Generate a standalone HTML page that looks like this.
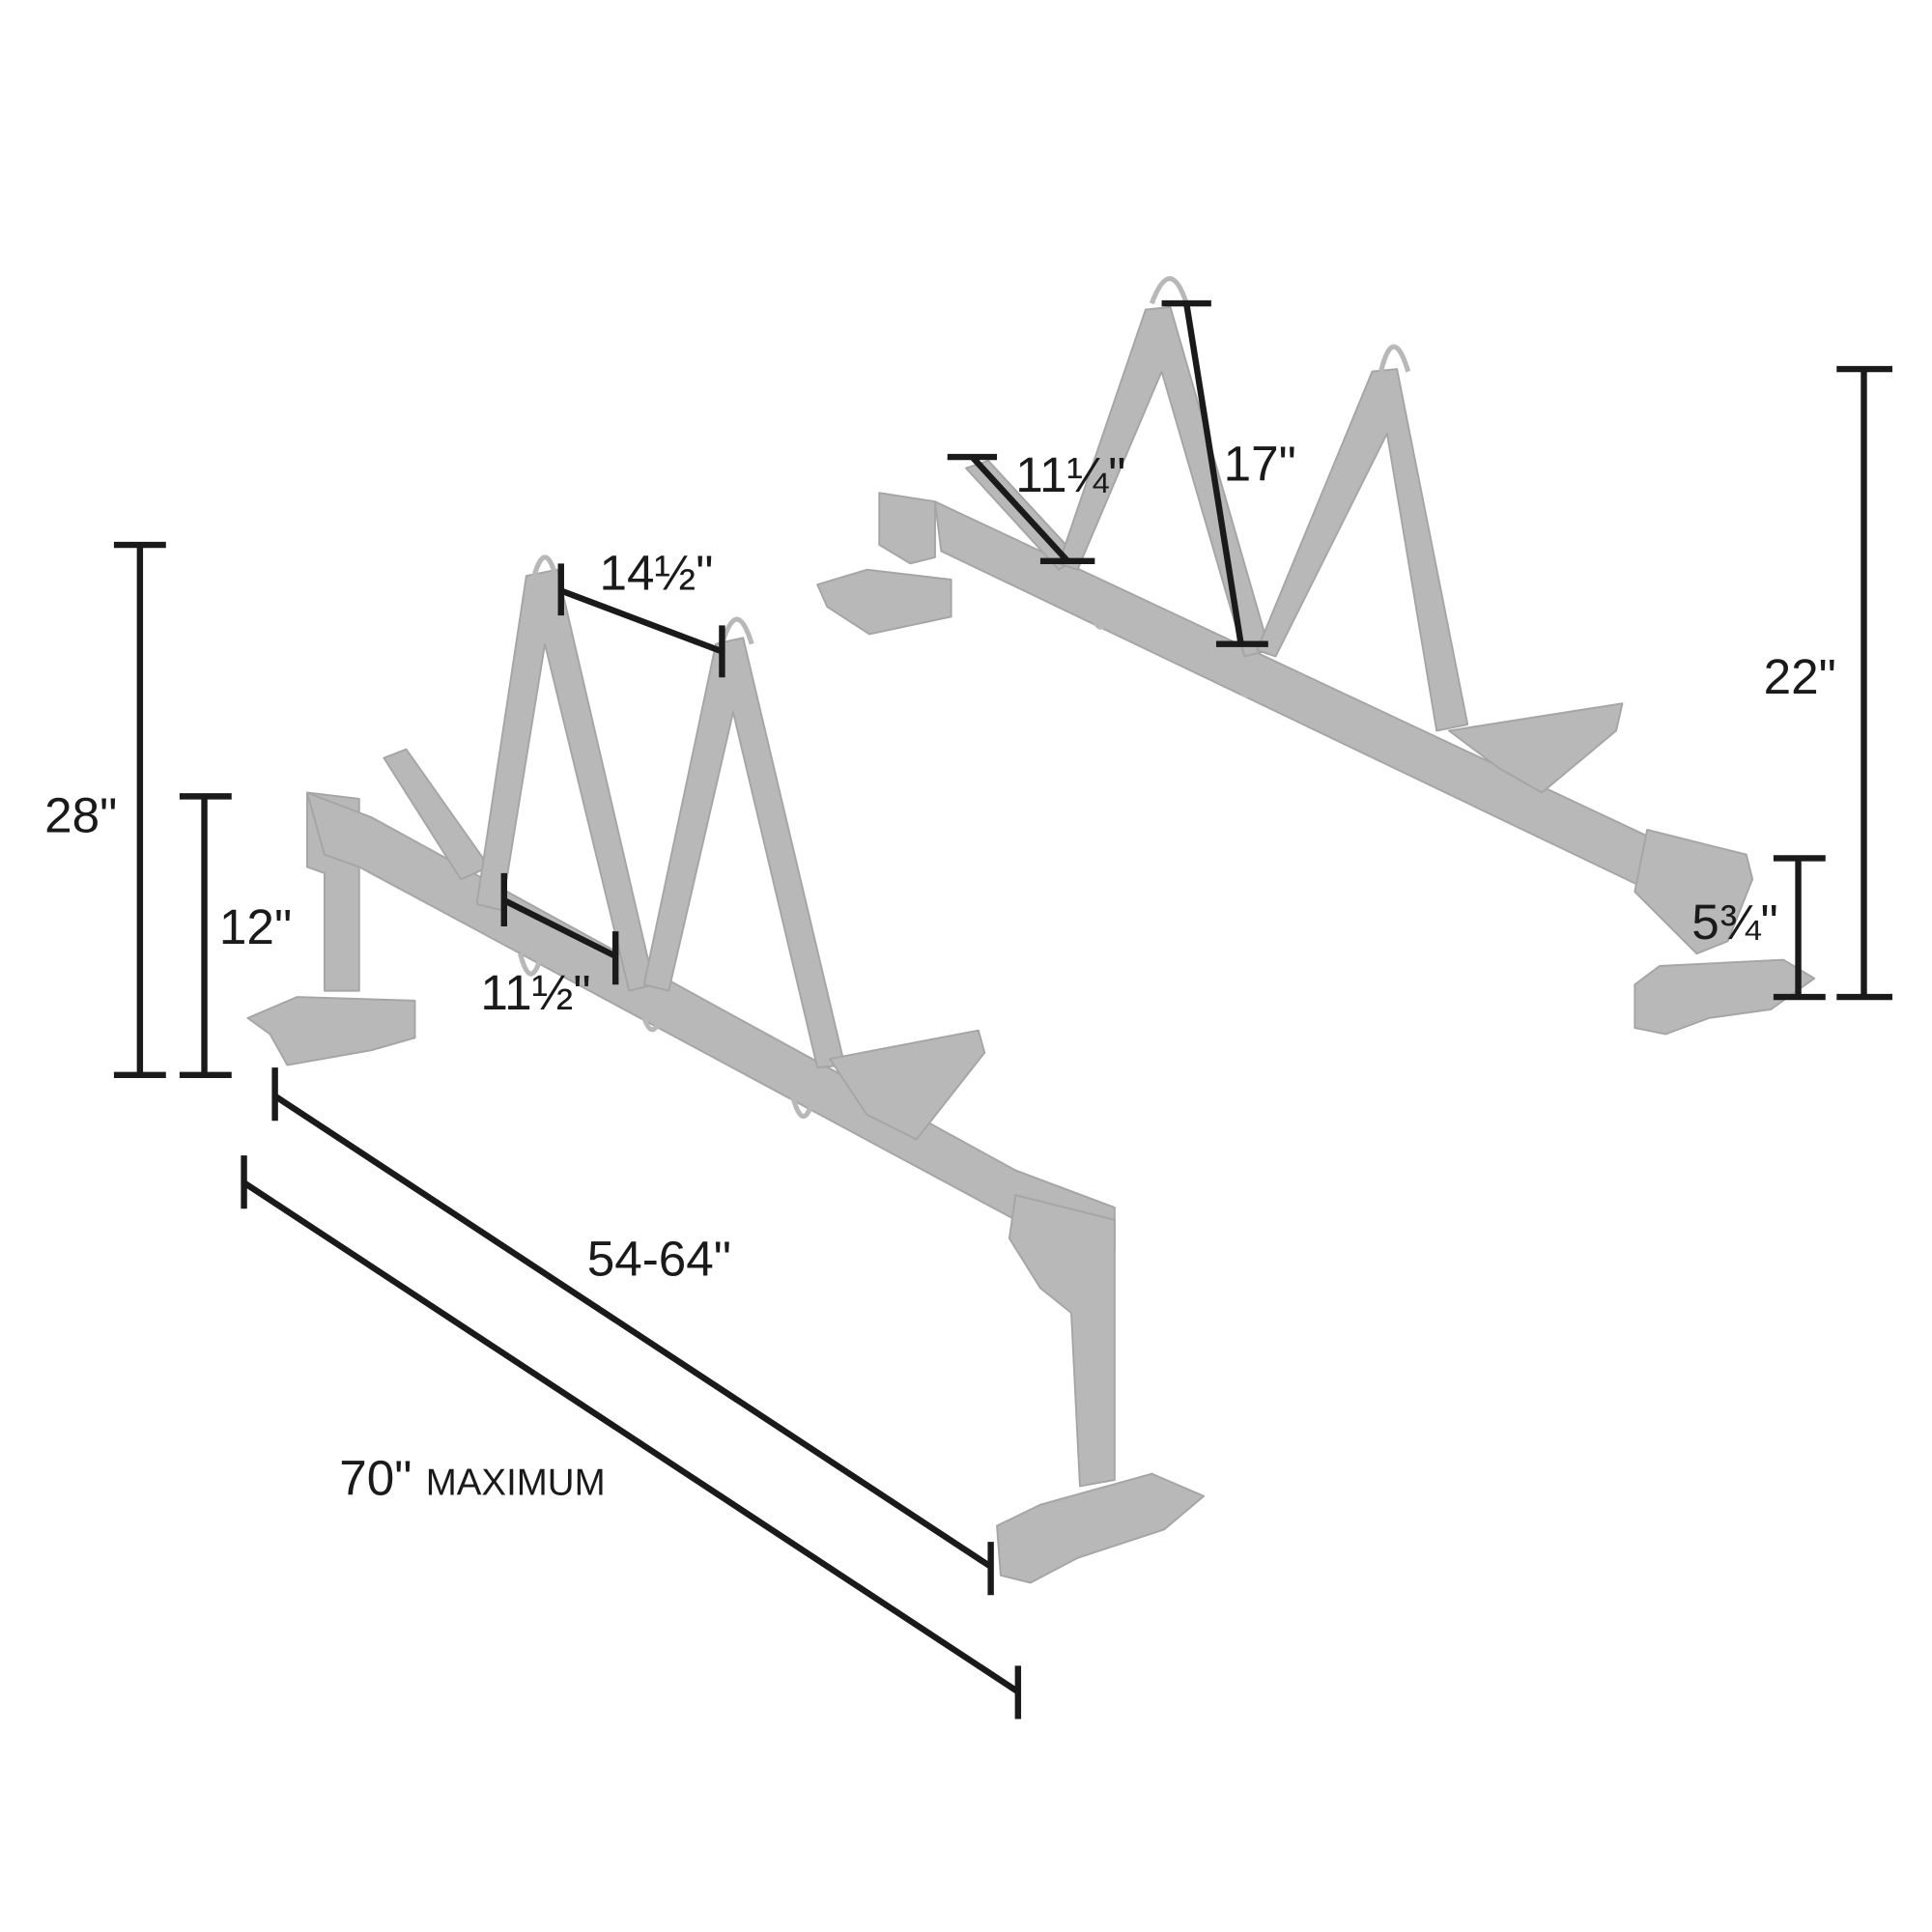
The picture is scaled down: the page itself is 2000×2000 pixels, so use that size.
<!DOCTYPE html>
<html><head><meta charset="utf-8"><style>
html,body{margin:0;padding:0;background:#fff;}
svg{display:block;}
text{font-family:"Liberation Sans",sans-serif;fill:#1a1a1a;}
</style></head><body>
<svg width="2000" height="2000" viewBox="0 0 1560 1560" xmlns="http://www.w3.org/2000/svg">
<g fill="#b8b8b8" stroke="#a5a5a5" stroke-width="1.5" stroke-linejoin="round">
<!-- FRONT RACK -->
<polygon points="248,640 290,645 290,800 262,800 262,705 248,700"/>
<polygon points="200,822 240,805 335,808 335,838 300,848 232,860 218,835"/>
<polygon points="248,640 300,660 820,945 900,975 900,1010 820,985 290,700 262,690"/>
<polygon points="310,612 328,605 395,700 372,710"/>
<polygon points="425,465 450,460 528,795 508,800 440,520 405,735 385,730"/>
<polygon points="578,520 600,515 682,860 660,862 592,575 540,800 520,795"/>
<polygon points="670,855 790,832 795,850 740,920 700,900"/>
<polygon points="820,965 900,985 900,1195 872,1200 865,1060 840,1040 815,1000"/>
<polygon points="805,1232 840,1215 930,1190 972,1208 940,1235 870,1258 832,1278 808,1272"/>
<!-- BACK RACK -->
<polygon points="710,398 755,405 755,450 735,455 710,440"/>
<polygon points="660,472 700,460 768,468 768,498 702,512 668,490"/>
<polygon points="755,405 1330,675 1410,690 1415,710 1330,718 760,445"/>
<polygon points="780,378 798,372 870,450 855,460"/>
<polygon points="925,250 945,248 1025,525 1005,530 938,300 870,460 855,455"/>
<polygon points="1108,300 1128,298 1185,585 1160,590 1120,350 1030,530 1015,525"/>
<polygon points="1170,590 1310,568 1305,590 1245,640 1210,620"/>
<polygon points="1330,670 1410,690 1415,710 1395,760 1370,770 1320,720"/>
<polygon points="1320,795 1340,780 1440,775 1465,790 1430,815 1380,822 1345,835 1320,830"/>
</g>
<g fill="none" stroke="#b8b8b8" stroke-width="4">
<path d="M430,470 Q440,430 450,470"/><path d="M583,520 Q595,480 607,520"/>
<path d="M930,245 Q945,205 958,245"/><path d="M1115,300 Q1125,260 1137,300"/>
<path d="M420,770 Q428,800 436,775"/><path d="M518,815 Q526,845 534,820"/>
<path d="M640,885 Q648,915 656,890"/><path d="M880,490 Q888,520 896,495"/>
<path d="M998,545 Q1006,575 1014,550"/><path d="M1135,605 Q1143,635 1151,610"/>
</g>
<g stroke="#1a1a1a" stroke-width="5" fill="none">
<line x1="113" y1="440" x2="113" y2="868"/><line x1="92" y1="440" x2="134" y2="440"/><line x1="92" y1="868" x2="134" y2="868"/>
<line x1="165" y1="643" x2="165" y2="868"/><line x1="145" y1="643" x2="187" y2="643"/><line x1="145" y1="868" x2="187" y2="868"/>
<line x1="222" y1="885" x2="800" y2="1265"/><line x1="222" y1="862" x2="222" y2="905"/><line x1="800" y1="1245" x2="800" y2="1288"/>
<line x1="197" y1="955" x2="822" y2="1366"/><line x1="197" y1="933" x2="197" y2="976"/><line x1="822" y1="1345" x2="822" y2="1388"/>
<line x1="453" y1="477" x2="583" y2="526"/><line x1="453" y1="455" x2="453" y2="497"/><line x1="583" y1="505" x2="583" y2="547"/>
<line x1="407" y1="727" x2="497" y2="772"/><line x1="407" y1="705" x2="407" y2="748"/><line x1="497" y1="752" x2="497" y2="795"/>
<line x1="785" y1="369" x2="862" y2="453"/><line x1="765" y1="369" x2="805" y2="369"/><line x1="840" y1="453" x2="884" y2="453"/>
<line x1="958" y1="245" x2="1002" y2="520"/><line x1="938" y1="245" x2="978" y2="245"/><line x1="982" y1="520" x2="1024" y2="520"/>
<line x1="1505" y1="298" x2="1505" y2="805"/><line x1="1483" y1="298" x2="1528" y2="298"/><line x1="1483" y1="805" x2="1528" y2="805"/>
<line x1="1452" y1="693" x2="1452" y2="805"/><line x1="1432" y1="693" x2="1474" y2="693"/><line x1="1432" y1="805" x2="1474" y2="805"/>
</g>
<g font-size="40">
<text x="36" y="672">28"</text>
<text x="177" y="762">12"</text>
<text x="474" y="1030">54-64"</text>
<text x="274" y="1207">70" <tspan font-size="30">MAXIMUM</tspan></text>
<text x="484" y="476">14½"</text>
<text x="388" y="815">11½"</text>
<text x="820" y="397">11¼"</text>
<text x="988" y="388">17"</text>
<text x="1424" y="560">22"</text>
<text x="1366" y="758">5¾"</text>
</g>
</svg>
</body></html>
